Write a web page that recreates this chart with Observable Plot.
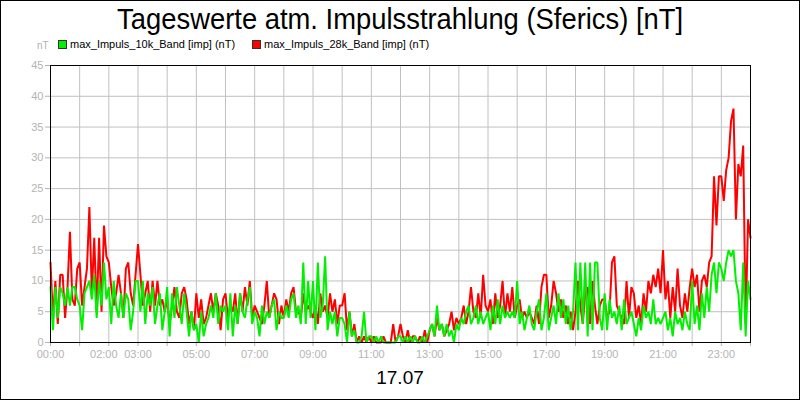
<!DOCTYPE html>
<html><head><meta charset="utf-8">
<script src="https://cdn.jsdelivr.net/npm/d3@7"></script>
<script src="https://cdn.jsdelivr.net/npm/@observablehq/plot@0.6"></script>
<style>
html,body{margin:0;padding:0;background:#fff;}
#wrap{position:relative;width:800px;height:400px;overflow:hidden;background:#fff;font-family:"Liberation Sans",Arial,sans-serif;}
#border{position:absolute;left:0;top:0;width:800px;height:400px;box-sizing:border-box;border:1px solid #000;pointer-events:none;}
#plot{position:absolute;left:0;top:0;}
#title{position:absolute;left:0;top:4px;width:800px;text-align:center;font-size:30px;line-height:30px;white-space:nowrap;color:#000;}
#title span{display:inline-block;transform-origin:center;}
.leg{position:absolute;top:38px;font-size:11px;line-height:12px;white-space:nowrap;color:#000;}
.sw{display:inline-block;width:7px;height:7px;border:1px solid #333;vertical-align:-1px;margin-right:3px;}
#unit{position:absolute;left:37px;top:41px;font-size:10px;line-height:10px;color:#b0b0b0;}
#date{position:absolute;left:0;top:368px;width:800px;text-align:center;font-size:19px;line-height:19px;color:#000;}
</style></head>
<body>
<div id="wrap">
  <div id="plot"></div>
  <div id="title"><span id="tspan">Tageswerte atm. Impulsstrahlung (Sferics) [nT]</span></div>
  <div id="unit">nT</div>
  <div class="leg" id="leg1" style="left:58px"><span class="sw" style="background:#00f000"></span>max_Impuls_10k_Band [imp] (nT)</div>
  <div class="leg" id="leg2" style="left:252px"><span class="sw" style="background:#ff0000"></span>max_Impuls_28k_Band [imp] (nT)</div>
  <div id="date">17.07</div>
  <div id="border"></div>
</div>
<script>
// 5-minute values, one row per hour (00:00 ... 23:00), last row includes 24:00
const band10k = [
  9,2,9,4,9,8,6,9,6,9,9,7,
  6,2,8,9,10,7,11,4,10,6,13,7,
  9,3,10,6,4,8,4,8,7,2,5,10,
  10,5,10,3,8,6,9,3,6,8,2,5,
  9,1,8,4,9,6,3,8,5,1,5,2,
  3,0,5,1,3,4,6,4,8,3,6,5,
  6,2,8,1,6,3,8,5,4,7,9,3,
  5,4,1,6,3,5,4,6,7,2,5,4,
  4,6,4,7,8,4,6,3,13,3,10,4,
  10,2,13,4,6,14,2,5,3,5,1,4,
  4,3,0,5,1,2,0,0,1,5,0,1,
  1,0,1,0,1,0,0,0,0,0,0,1,
  1,0,1,0,1,0,1,0,0,1,0,1,
  2,3,1,6,2,3,1,3,1,2,0,3,
  2,4,3,5,6,3,4,6,3,5,3,4,
  5,2,6,3,7,3,6,4,5,4,5,4,
  10,3,5,2,4,6,3,2,5,7,2,4,
  8,2,4,6,3,8,4,7,3,6,2,5,
  13,2,13,3,13,1,13,2,13,13,4,2,
  8,2,7,4,5,3,6,2,7,3,4,5,
  3,1,4,2,6,4,5,3,7,3,4,3,
  4,5,2,4,1,5,3,4,2,5,3,2,
  10,3,6,2,8,4,9,5,11,13,8,13,
  12,10,13,15,14,15,10,8,2,13,1,10,7
];
const band28k = [
  13,4,10,3,11,11,4,9,18,7,6,12,
  13,6,9,12,22,8,17,5,17,5,19,14,
  13,9,6,8,11,8,4,12,13,8,6,11,
  16,11,6,8,10,5,10,6,10,6,7,5,
  7,3,6,9,5,4,8,9,7,3,5,2,
  8,4,7,3,4,6,8,5,8,6,2,7,
  8,4,6,5,8,3,8,5,9,6,10,4,
  6,5,4,3,6,10,4,6,8,7,3,6,
  4,7,5,8,9,5,5,4,8,5,6,5,
  4,6,3,8,5,6,4,8,5,7,3,6,
  6,8,2,5,1,3,0,1,0,1,0,1,
  0,1,0,0,0,1,0,0,0,3,0,1,
  3,1,0,2,0,1,1,0,1,0,2,0,
  2,3,1,4,2,3,1,2,3,5,2,4,
  3,4,6,3,5,9,5,4,8,4,11,6,
  5,7,3,8,4,6,10,4,8,5,9,4,
  6,7,4,5,4,5,4,3,6,3,9,11,
  11,4,6,10,8,5,7,4,6,3,5,2,
  5,10,6,3,8,9,3,10,6,3,6,7,
  7,4,5,13,14,6,5,4,3,10,4,9,
  8,4,6,3,8,5,10,8,11,9,12,8,
  15,7,10,4,9,5,12,6,4,8,5,9,
  12,9,11,5,10,11,9,13,14,27,19,27,
  27,23,28,30,36,38,20,29,27,32,3,20,17
];
const yTicks = [0,5,10,15,20,25,30,35,40,45];
const hourTicks = d3.range(0,25);
const hourLabels = [0,3,5,7,9,11,13,15,17,19,21,23];
const shiftedLabels = [2];
const seriesNames = ["max_Impuls_10k_Band [imp] (nT)","max_Impuls_28k_Band [imp] (nT)"];
const seriesColors = ["#00f000","#ff0000"];

const STEP = 5/60;
const d10 = band10k.map((v,i)=>({h:i*STEP, v}));
const d28 = band28k.map((v,i)=>({h:i*STEP, v}));
const fmt = h => String(h).padStart(2,"0") + ":00";
const gray = "#b4b4b4";

const chart = Plot.plot({
  width: 800, height: 400,
  marginTop: 65, marginBottom: 58, marginLeft: 50, marginRight: 50,
  style: {fontFamily: '"Liberation Sans", Arial, sans-serif', fontSize: "11px", background: "transparent"},
  x: {domain: [0,24], label: null},
  y: {domain: [0,45], label: null},
  marks: [
    Plot.gridY(yTicks, {stroke: "#c0c0c0", strokeOpacity: 1, strokeWidth: 1}),
    Plot.gridX(hourTicks, {stroke: "#c0c0c0", strokeOpacity: 1, strokeWidth: 1}),
    Plot.axisY(yTicks, {tickSize: 5, tickPadding: 2, stroke: gray, fill: gray, label: null}),
    Plot.axisX(hourTicks, {tickSize: 4, tickFormat: () => "", stroke: gray, label: null}),
    Plot.axisX(hourLabels, {tickSize: 0, tickPadding: 8, tickFormat: fmt, fill: gray, label: null}),
    Plot.axisX(shiftedLabels, {tickSize: 0, tickPadding: 8, dx: -5, tickFormat: fmt, fill: gray, label: null}),
    Plot.line(d28, {x: "h", y: "v", stroke: seriesColors[1], strokeWidth: 2, strokeLinejoin: "miter"}),
    Plot.line(d10, {x: "h", y: "v", stroke: seriesColors[0], strokeWidth: 2, strokeLinejoin: "miter"}),
    Plot.frame({stroke: "#000", strokeWidth: 1})
  ]
});
document.getElementById("plot").appendChild(chart);

const ts = document.getElementById("tspan");
const w = ts.getBoundingClientRect().width;
ts.style.transform = `scaleX(${566 / w})`;
</script>
</body></html>
